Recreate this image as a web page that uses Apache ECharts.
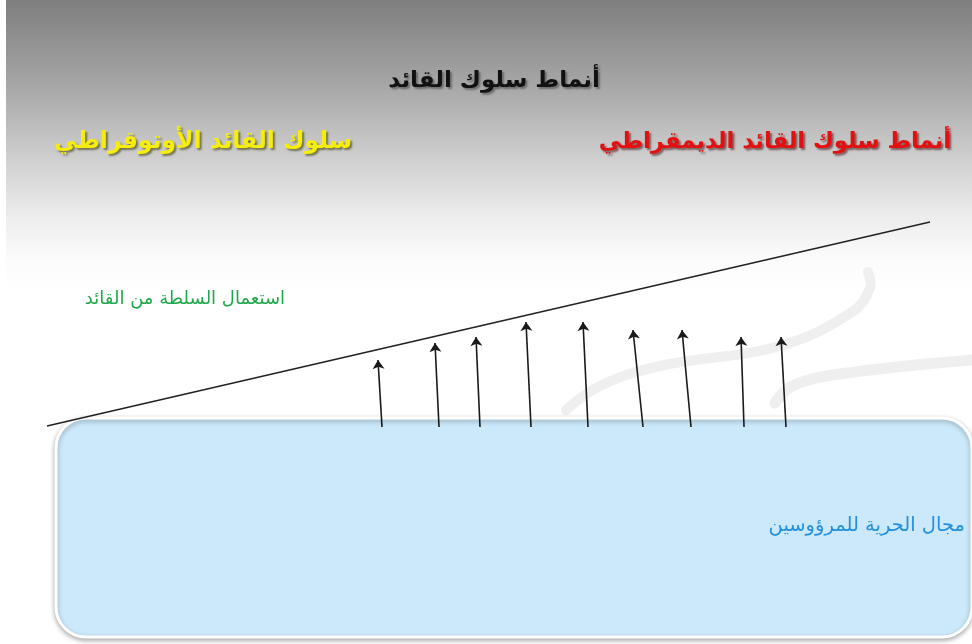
<!DOCTYPE html>
<html>
<head>
<meta charset="utf-8">
<script src="https://cdn.jsdelivr.net/npm/echarts@6/dist/echarts.min.js"></script>
<style>
  html, body { margin: 0; padding: 0; }
  #main { width: 972px; height: 644px; }
</style>
</head>
<body>
<div id="main"></div>
<script>
// diagram drawn in pixel-like data units (x 0..972, y 0..644 top-down)
var arrowBaseX = [382, 439, 480, 531, 588, 643, 691, 744, 786];
var arrowTipX = [378, 435, 476, 526, 583, 633, 682, 741, 781];
var arrowTipY = [360, 343, 337, 322, 322, 330, 330, 337, 337];
var arrowBaseY = 427;

var slopeX = [47, 930];
var slopeY = [426, 222];

var labels = ["أنماط سلوك القائد", "سلوك القائد الأوتوقراطي", "أنماط سلوك القائد الديمقراطي",
              "استعمال السلطة من القائد", "مجال الحرية للمرؤوسين"];

var chartDom = document.getElementById("main");
var myChart = echarts.init(chartDom);
var option;

var arrowData = arrowBaseX.map(function (x, i) {
  return { coords: [[x, arrowBaseY], [arrowTipX[i], arrowTipY[i]]] };
});

var arabicFont = '"DejaVu Sans", sans-serif';

function heading(text, x, y, size, fill, shadow, align) {
  return {
    type: "text", x: x, y: y,
    style: {
      text: text, font: "bold " + size + "px " + arabicFont, fill: fill,
      align: align, verticalAlign: "middle",
      textShadowColor: shadow, textShadowBlur: 2, textShadowOffsetX: 2, textShadowOffsetY: 2
    }
  };
}

option = {
  animation: false,
  backgroundColor: {
    type: "linear", x: 0, y: 0, x2: 0, y2: 1,
    colorStops: [
      { offset: 0, color: "#7e7e7e" },
      { offset: 0.14, color: "#a9a9a9" },
      { offset: 0.24, color: "#cdcdcd" },
      { offset: 0.33, color: "#ebebeb" },
      { offset: 0.4, color: "#fbfbfb" },
      { offset: 0.45, color: "#ffffff" },
      { offset: 1, color: "#ffffff" }
    ]
  },
  grid: { left: 0, right: 0, top: 0, bottom: 0 },
  xAxis: { type: "value", min: 0, max: 972, show: false },
  yAxis: { type: "value", min: 0, max: 644, inverse: true, show: false },
  graphic: [
    { type: "rect", z: -10, shape: { x: 0, y: 0, width: 6, height: 644 }, style: { fill: "#ffffff" } },
    {
      type: "polyline", z: -5,
      shape: { points: [[566, 410], [600, 386], [660, 366], [780, 346], [852, 312], [870, 288], [868, 272]], smooth: 0.4 },
      style: { stroke: "#efefef", lineWidth: 10, fill: null, lineCap: "round" }
    },
    {
      type: "polyline", z: -5,
      shape: { points: [[775, 403], [792, 386], [840, 374], [972, 360]], smooth: 0.4 },
      style: { stroke: "#efefef", lineWidth: 11, fill: null, lineCap: "round" }
    },
    {
      type: "rect", z: -4,
      shape: { x: 56, y: 418, width: 916, height: 219, r: 30 },
      style: {
        fill: "#cce9fb", stroke: "#ffffff", lineWidth: 3,
        shadowBlur: 5, shadowColor: "rgba(0,0,0,0.3)", shadowOffsetY: 2
      }
    },
    heading(labels[0], 494, 81, 23, "#111111", "rgba(0,0,0,0.35)", "center"),
    heading(labels[1], 352, 142, 23.5, "#f6ee0a", "rgba(60,60,0,0.6)", "right"),
    heading(labels[2], 951, 142, 22.7, "#e41010", "rgba(60,0,0,0.55)", "right"),
    {
      type: "text", x: 285, y: 299,
      style: { text: labels[3], font: "18px " + arabicFont, fill: "#1fa84a", align: "right", verticalAlign: "middle" }
    },
    {
      type: "text", x: 965, y: 526,
      style: { text: labels[4], font: "19.5px " + arabicFont, fill: "#2390df", align: "right", verticalAlign: "middle" }
    }
  ],
  series: [
    {
      type: "line",
      symbol: "none",
      silent: true,
      lineStyle: { color: "#222222", width: 1.5 },
      data: [[slopeX[0], slopeY[0]], [slopeX[1], slopeY[1]]]
    },
    {
      type: "lines",
      coordinateSystem: "cartesian2d",
      silent: true,
      symbol: ["none", "arrow"],
      symbolSize: [0, 9],
      lineStyle: { color: "#1a1a1a", width: 1.6, opacity: 1 },
      data: arrowData
    }
  ]
};

option && myChart.setOption(option, true);
</script>
</body>
</html>
